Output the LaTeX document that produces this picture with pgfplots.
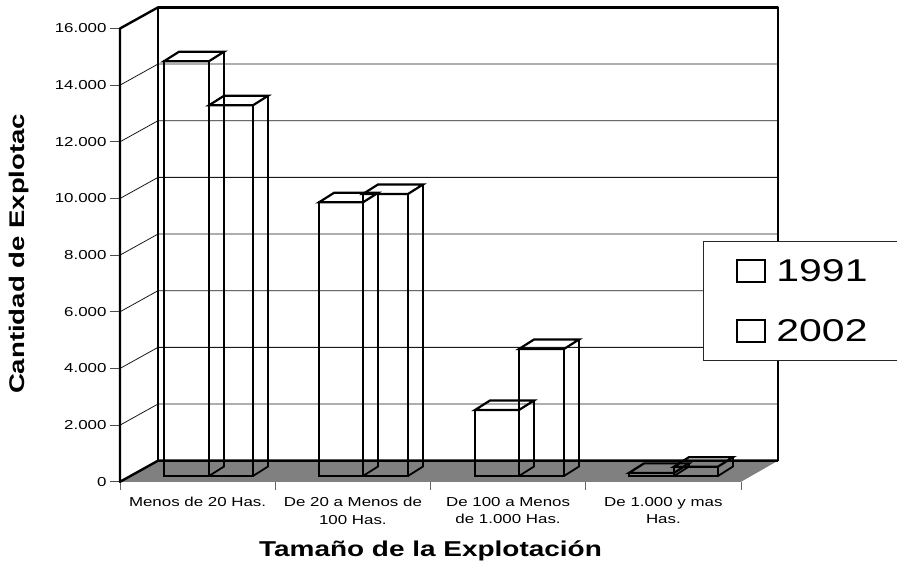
\documentclass[border=0pt]{standalone}
\usepackage{fontspec}
\setmainfont[FakeStretch=1.3]{Liberation Sans}
\usepackage{pgfplots}
\pgfplotsset{compat=1.18}
\pgfplotsset{
  wire/.style={black,line width=2.2pt,no markers,yshift=5.8pt,forget plot},
  wirelg/.style={black,line width=2.2pt,no markers,yshift=5.8pt},
  side/.style={black,line width=1.8pt,no markers,yshift=5.8pt,forget plot},
  gridl/.style={black!90,line width=0.8pt,no markers,forget plot},
  wall/.style={black,line width=2.4pt,no markers,forget plot,line join=round},
}
\begin{document}
\begin{tikzpicture}
\useasboundingbox (-120pt,-94.2pt) rectangle (777pt,481.8pt);
\begin{axis}[
  anchor=south west, at={(0pt,0pt)},
  scale only axis, width=621pt, height=453.3pt,
  xmin=120, xmax=741, ymin=0, ymax=16000,
  clip=false,
  axis x line=bottom, axis y line=left,
  axis line style={-},
  x axis line style={draw=black!60,line width=0.8pt},
  y axis line style={draw=none},
  xtick={197.6,352.9,508.1,663.4},
  minor xtick={120,275.25,430.5,585.75,741},
  xticklabels={Menos de 20 Has.,{De 20 a Menos de\\100 Has.},{De 100 a Menos\\de 1.000 Has.},{De 1.000 y mas\\Has.}},
  major x tick style={draw=none},
  minor x tick style={draw=black!60,line width=0.8pt},
  minor tick length=8pt,
  xticklabel style={align=center,font=\fontsize{13}{17.5}\selectfont,yshift=-2pt},
  ytick={0,2000,...,16000},
  scaled y ticks=false,
  major tick length=10pt,
  y tick style={draw=black!70,line width=0.8pt},
  tick align=outside,
  yticklabel style={font=\fontsize{13}{15}\selectfont},
  /pgf/number format/assume math mode=true,
  /pgf/number format/.cd,1000 sep={.},/pgfplots/.cd,
  xlabel={Tamaño de la Explotación},
  xlabel style={font=\bfseries\fontsize{21.5}{24}\selectfont,at={(0.5,0)},anchor=north,yshift=-55pt,xshift=0pt},
  ylabel={Cantidad de Explotac},
  ylabel style={font=\bfseries\fontsize{21.2}{24}\selectfont,at={(axis description cs:-0.163,0.503)},anchor=center},
  legend image code/.code={\draw[draw=none,fill=none] (0pt,-11pt) rectangle (67pt,11pt);\draw[black,line width=2pt] (34pt,-17pt) rectangle (62pt,5pt);},
  legend style={at={(0.9388,0.5312)},anchor=north west,fill=white,draw=black!85,line width=0.9pt,
    font=\fontsize{31.5}{32}\selectfont,inner xsep=0pt,inner ysep=12pt,
    row sep=24.5pt,
    nodes={inner sep=6pt,text width=200pt,align=left}},
  legend cell align=left,
]
% floor
\addplot[fill=black!50,draw=none,forget plot] coordinates {(120,0)(158,745)(778,745)(741,0)} --cycle;
% back-wall gridlines and their returns on the left wall
\addplot[gridl] coordinates {(120,2000)(158,2745)(778,2745)};
\addplot[gridl] coordinates {(120,4000)(158,4745)(778,4745)};
\addplot[gridl] coordinates {(120,6000)(158,6745)(778,6745)};
\addplot[gridl] coordinates {(120,8000)(158,8745)(778,8745)};
\addplot[gridl] coordinates {(120,10000)(158,10745)(778,10745)};
\addplot[gridl] coordinates {(120,12000)(158,12745)(778,12745)};
\addplot[gridl] coordinates {(120,14000)(158,14745)(778,14745)};
% walls
\addplot[wall] coordinates {(158,745)(158,16745)(778,16745)(778,745)};
\addplot[wall] coordinates {(778,745)(158,745)(120,0)(120,16000)(158,16745)};
% Menos de 20 Has.
\addplot[wirelg] coordinates {(164,0)(164,14640)(209,14640)(209,0)} --cycle;
\addplot[side] coordinates {(209,0)(224,335)(224,14975)};
\addplot[wire] coordinates {(164,14640)(179,14975)(224,14975)(209,14640)} --cycle;
\addplot[wirelg] coordinates {(209,0)(209,13085)(253,13085)(253,0)} --cycle;
\addplot[side] coordinates {(253,0)(268,335)(268,13420)};
\addplot[wire] coordinates {(209,13085)(224,13420)(268,13420)(253,13085)} --cycle;
% De 20 a Menos de 100 Has.
\addplot[wire] coordinates {(319,0)(319,9660)(363,9660)(363,0)} --cycle;
\addplot[side] coordinates {(363,0)(378,335)(378,9995)};
\addplot[wire] coordinates {(319,9660)(334,9995)(378,9995)(363,9660)} --cycle;
\addplot[wire] coordinates {(363,0)(363,9955)(408,9955)(408,0)} --cycle;
\addplot[side] coordinates {(408,0)(423,335)(423,10290)};
\addplot[wire] coordinates {(363,9955)(378,10290)(423,10290)(408,9955)} --cycle;
% De 100 a Menos de 1.000 Has.
\addplot[wire] coordinates {(475,0)(475,2330)(519,2330)(519,0)} --cycle;
\addplot[side] coordinates {(519,0)(534,335)(534,2665)};
\addplot[wire] coordinates {(475,2330)(490,2665)(534,2665)(519,2330)} --cycle;
\addplot[wire] coordinates {(519,0)(519,4483)(564,4483)(564,0)} --cycle;
\addplot[side] coordinates {(564,0)(579,335)(579,4818)};
\addplot[wire] coordinates {(519,4483)(534,4818)(579,4818)(564,4483)} --cycle;
% De 1.000 y mas Has.
\addplot[wire] coordinates {(629,0)(629,110)(674,110)(674,0)} --cycle;
\addplot[side] coordinates {(674,0)(689,335)(689,445)};
\addplot[wire] coordinates {(629,110)(644,445)(689,445)(674,110)} --cycle;
\addplot[wire] coordinates {(674,0)(674,330)(718,330)(718,0)} --cycle;
\addplot[side] coordinates {(718,0)(733,335)(733,665)};
\addplot[wire] coordinates {(674,330)(689,665)(733,665)(718,330)} --cycle;
\legend{1991,2002}
\end{axis}
\end{tikzpicture}
\end{document}
